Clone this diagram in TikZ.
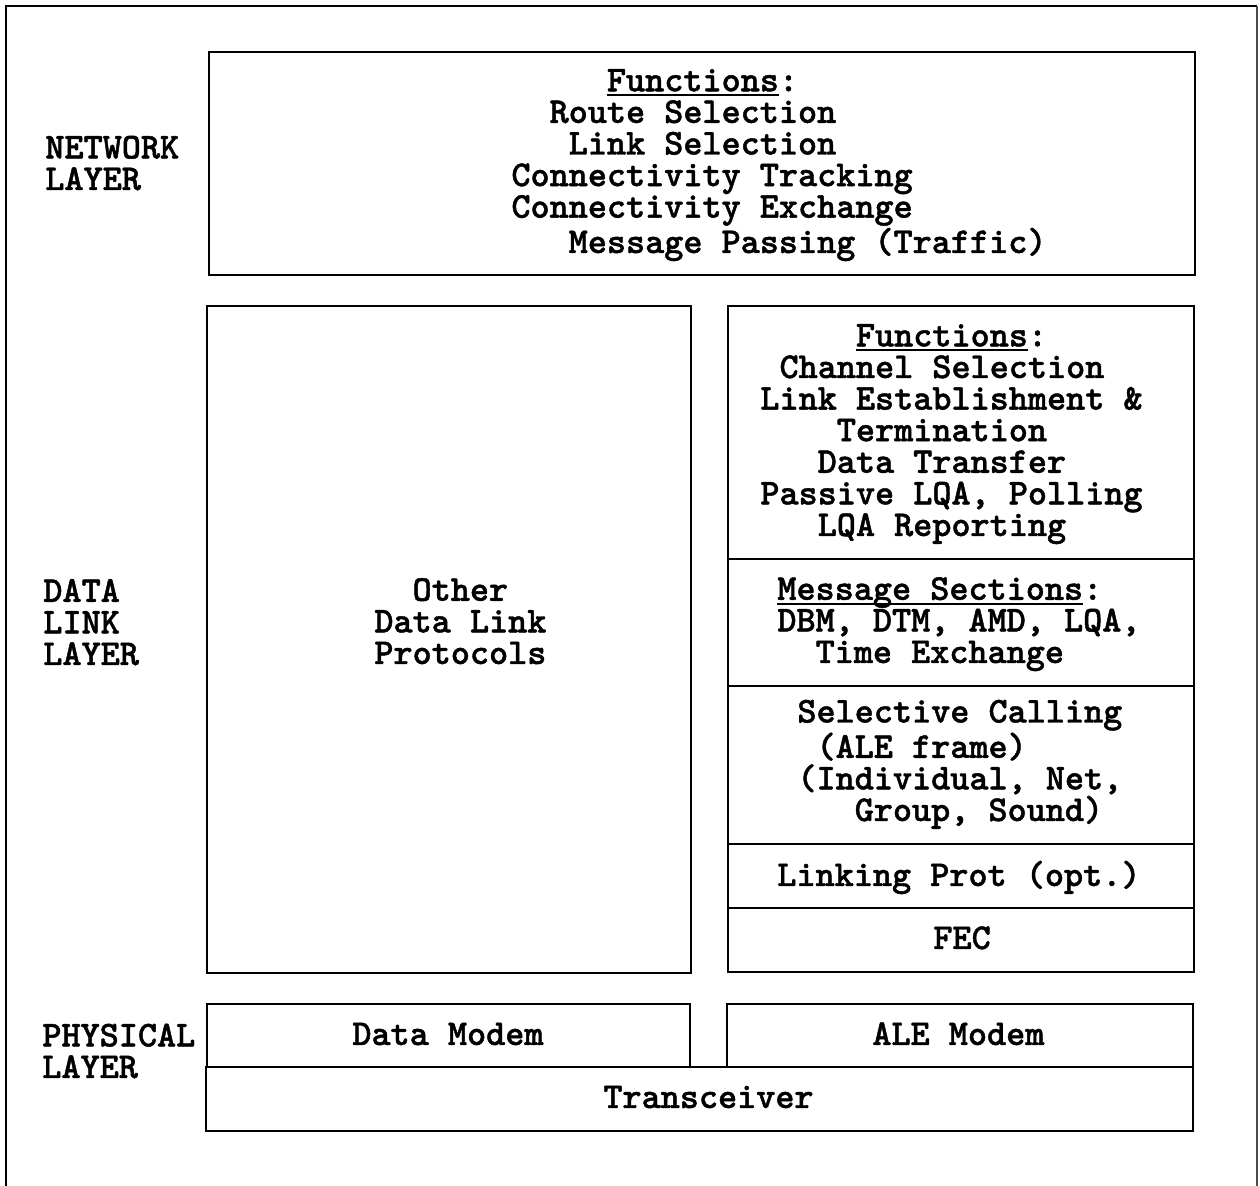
\documentclass[tikz,border=0pt]{standalone}
\usepackage{fontspec}
\newfontfamily\cmono{lmmonolt10-bold}[Extension=.otf,FakeBold=1.2]
\newcommand\myul[1]{\setbox0\hbox{#1}\rlap{\rule[-2.4pt]{\wd0}{0.9pt}}\box0}
\newcommand\indt[1]{\hphantom{\cmono #1}}
\begin{document}
\begin{tikzpicture}[x=0.5pt,y=-0.5pt,
  box/.style={draw=black,line width=1.4pt},
  txt/.style={anchor=base west,inner sep=0pt,align=left,font=\cmono\fontsize{18.2pt}{15.8pt}\selectfont},
  frame/.style={draw=black,line width=1.2pt}]
\useasboundingbox (0,0) rectangle (1260,1186);
% outer frame
\draw[frame] (6,1186) -- (6,6) -- (1257,6);
\draw[draw=black!70,line width=0.8pt] (1257,6) -- (1257,1186);
% network box
\draw[box] (209,52) rectangle (1195,275);
% data link boxes
\draw[box] (207,306) rectangle (691,973);
\draw[box] (728,306) rectangle (1194,972);
\draw[box] (728,559) -- (1194,559);
\draw[box] (728,686) -- (1194,686);
\draw[box] (728,844) -- (1194,844);
\draw[box] (728,908) -- (1194,908);
% physical
\draw[box] (207,1004) rectangle (690,1067);
\draw[box] (727,1004) rectangle (1193,1067);
\draw[box] (206,1067) rectangle (1193,1131);
% left labels (anchor = baseline of last line)
\node[txt] (nl) at (45,190) {NETWORK\\LAYER};
\node[txt] (dl) at (43,665) {DATA\\LINK\\LAYER};
\node[txt] (pl) at (42,1078) {PHYSICAL\\LAYER};
% network functions
\node[txt] (nf) at (511,253) {\indt{xxxxx}\myul{Functions}:\\
\indt{xx}Route Selection\\
\indt{xxx}Link Selection\\
Connectivity Tracking\\
Connectivity Exchange\\
\indt{xxx}Message Passing (Traffic)};
% other protocols
\node[txt] (op) at (374,664) {\indt{xx}Other\\Data Link\\Protocols};
% ALE functions
\node[txt] (af) at (760,536) {\indt{xxxxx}\myul{Functions}:\\
\indt{x}Channel Selection\\
Link Establishment \&\\
\indt{xxxx}Termination\\
\indt{xxx}Data Transfer\\
Passive LQA, Polling\\
\indt{xxx}LQA Reporting};
% message sections
\node[txt] (ms) at (777,663) {\myul{Message Sections}:\\
DBM, DTM, AMD, LQA,\\
\indt{xx}Time Exchange};
% selective calling
\node[txt] (sc) at (797,821) {Selective Calling\\
\indt{x}(ALE frame)\\
(Individual, Net,\\
\indt{xxx}Group, Sound)};
% linking prot, FEC
\node[txt] (lp) at (777,886) {Linking Prot (opt.)};
\node[txt] (fec) at (933,949) {FEC};
% physical texts
\node[txt] (dm) at (352,1045) {Data Modem};
\node[txt] (am) at (872,1045) {ALE Modem};
\node[txt] (tr) at (603,1108) {Transceiver};
\end{tikzpicture}
\end{document}
